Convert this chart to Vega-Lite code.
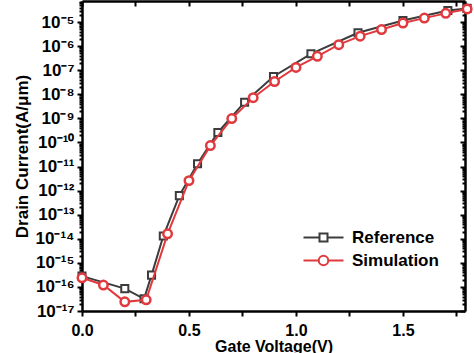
{
  "$schema": "https://vega.github.io/schema/vega-lite/v6.json",
  "autosize": {"type": "none"},
  "width": 383,
  "height": 310,
  "padding": {"left": 82, "top": 1, "right": 9, "bottom": 42},
  "background": "white",
  "config": {
    "view": {"stroke": null},
    "font": "Liberation Sans",
    "axis": {"grid": false, "domainColor": "black", "domainWidth": 2.5, "tickColor": "black", "tickWidth": 2, "labelFont": "Liberation Sans", "labelFontWeight": "bold", "labelFontSize": 16, "labelColor": "black", "titleFont": "Liberation Sans", "titleFontWeight": "bold", "titleColor": "black"}
  },
  "data": {"values": [
    {"series": "Reference", "v": 0.0, "i": 2.8e-16},
    {"series": "Reference", "v": 0.2, "i": 8.5e-17},
    {"series": "Reference", "v": 0.29, "i": 3.2e-17},
    {"series": "Reference", "v": 0.325, "i": 3.1e-16},
    {"series": "Reference", "v": 0.38, "i": 1.3e-14},
    {"series": "Reference", "v": 0.455, "i": 6.2e-13},
    {"series": "Reference", "v": 0.54, "i": 1.3e-11},
    {"series": "Reference", "v": 0.635, "i": 2.6e-10},
    {"series": "Reference", "v": 0.76, "i": 4.7e-9},
    {"series": "Reference", "v": 0.895, "i": 5.5e-8},
    {"series": "Reference", "v": 1.07, "i": 4.8e-7},
    {"series": "Reference", "v": 1.29, "i": 3.6e-6},
    {"series": "Reference", "v": 1.5, "i": 1.17e-5},
    {"series": "Reference", "v": 1.71, "i": 3.0e-5},
    {"series": "Reference", "v": 1.8, "i": 3.7e-5},
    {"series": "Simulation", "v": 0.0, "i": 2.4e-16},
    {"series": "Simulation", "v": 0.1, "i": 1.2e-16},
    {"series": "Simulation", "v": 0.2, "i": 2.4e-17},
    {"series": "Simulation", "v": 0.3, "i": 2.9e-17},
    {"series": "Simulation", "v": 0.4, "i": 1.6e-14},
    {"series": "Simulation", "v": 0.5, "i": 2.6e-12},
    {"series": "Simulation", "v": 0.6, "i": 7.4e-11},
    {"series": "Simulation", "v": 0.7, "i": 9.8e-10},
    {"series": "Simulation", "v": 0.8, "i": 7.2e-9},
    {"series": "Simulation", "v": 0.9, "i": 3.4e-8},
    {"series": "Simulation", "v": 1.0, "i": 1.3e-7},
    {"series": "Simulation", "v": 1.1, "i": 3.8e-7},
    {"series": "Simulation", "v": 1.2, "i": 1.15e-6},
    {"series": "Simulation", "v": 1.3, "i": 2.6e-6},
    {"series": "Simulation", "v": 1.4, "i": 4.9e-6},
    {"series": "Simulation", "v": 1.5, "i": 9.1e-6},
    {"series": "Simulation", "v": 1.6, "i": 1.46e-5},
    {"series": "Simulation", "v": 1.7, "i": 2.3e-5},
    {"series": "Simulation", "v": 1.8, "i": 3.5e-5}
  ]},
  "resolve": {"axis": {"x": "independent", "y": "independent"}},
  "layer": [
    {
      "transform": [{"filter": "datum.series === 'Reference'"}],
      "mark": {"type": "line", "strokeWidth": 2},
      "encoding": {
        "x": {"field": "v", "type": "quantitative", "scale": {"domain": [0, 1.79], "nice": false, "zero": false},
          "axis": {"orient": "bottom", "title": "Gate Voltage(V)", "titleFontSize": 16, "values": [0, 0.25, 0.5, 0.75, 1, 1.25, 1.5, 1.75],
            "labelExpr": "datum.value % 0.5 === 0 ? format(datum.value, '.1f') : ''", "tickSize": 5, "labelPadding": 6,
            "titleX": 191.5, "titleY": 40, "titleBaseline": "alphabetic", "titleAlign": "center", "labelFlush": false, "labelOverlap": false}},
        "y": {"field": "i", "type": "quantitative", "scale": {"type": "log", "domain": [1e-17, 7.5e-5], "nice": false},
          "axis": {"orient": "left", "title": "Drain Current(A/μm)", "titleFontSize": 17, "labelFontSize": 17,
            "values": [1e-17,2e-17,3e-17,4e-17,5e-17,6e-17,7e-17,8e-17,9e-17,1e-16,2e-16,3e-16,4e-16,5e-16,6e-16,7e-16,8e-16,9e-16,1e-15,2e-15,3e-15,4e-15,5e-15,6e-15,7e-15,8e-15,9e-15,1e-14,2e-14,3e-14,4e-14,5e-14,6e-14,7e-14,8e-14,9e-14,1e-13,2e-13,3e-13,4e-13,5e-13,6e-13,7e-13,8e-13,9e-13,1e-12,2e-12,3e-12,4e-12,5e-12,6e-12,7e-12,8e-12,9e-12,1e-11,2e-11,3e-11,4e-11,5e-11,6e-11,7e-11,8e-11,9e-11,1e-10,2e-10,3e-10,4e-10,5e-10,6e-10,7e-10,8e-10,9e-10,1e-9,2e-9,3e-9,4e-9,5e-9,6e-9,7e-9,8e-9,9e-9,1e-8,2e-8,3e-8,4e-8,5e-8,6e-8,7e-8,8e-8,9e-8,1e-7,2e-7,3e-7,4e-7,5e-7,6e-7,7e-7,8e-7,9e-7,1e-6,2e-6,3e-6,4e-6,5e-6,6e-6,7e-6,8e-6,9e-6,1e-5,2e-5,3e-5,4e-5,5e-5,6e-5,7e-5],
            "labelExpr": "abs(log(datum.value)/LN10 - round(log(datum.value)/LN10)) < 0.01 ? ('10⁻' + (-round(log(datum.value)/LN10) >= 10 ? substring('⁰¹²³⁴⁵⁶⁷⁸⁹', floor(-round(log(datum.value)/LN10)/10), floor(-round(log(datum.value)/LN10)/10)+1) : '') + substring('⁰¹²³⁴⁵⁶⁷⁸⁹', (-round(log(datum.value)/LN10)) % 10, (-round(log(datum.value)/LN10)) % 10 + 1)) : ''",
            "tickSize": {"condition": {"test": "abs(log(datum.value)/LN10 - round(log(datum.value)/LN10)) < 0.01", "value": 5}, "value": 3},
            "labelPadding": 3, "labelOverlap": false, "labelFlush": false,
            "titleX": -60, "titleY": 155, "titleAngle": -90, "titleBaseline": "middle", "titleAlign": "center"}},
        "color": {"field": "series", "type": "nominal", "scale": {"domain": ["Reference", "Simulation"], "range": ["#3c3c3c", "#e03a3e"]},
          "legend": {"orient": "none", "legendX": 233, "legendY": 228, "title": null, "padding": 0, "symbolSize": 100, "symbolStrokeWidth": 2,
            "labelFont": "Liberation Sans", "labelFontWeight": "bold", "labelFontSize": 17, "labelColor": "black", "labelOffset": 20, "rowPadding": 5,
            "encode": {"symbols": {"update": {"shape": {"signal": "datum.label === 'Reference' ? 'M-4,0H-0.8M-0.8,-0.8H0.8V0.8H-0.8ZM0.8,0H4' : 'M-4,0H-0.95M0.95,0H4M-0.95,0A0.95,0.95 0 1,0 0.95,0A0.95,0.95 0 1,0 -0.95,0Z'"}, "fill": {"value": "white"}, "strokeWidth": {"value": 2}}}}}}
      }
    },
    {
      "transform": [{"filter": "datum.series === 'Reference'"}],
      "mark": {"type": "point", "shape": "square", "filled": false, "fill": "white", "fillOpacity": 1, "size": 50, "strokeWidth": 2, "opacity": 1},
      "encoding": {
        "x": {"field": "v", "type": "quantitative",
          "axis": {"orient": "top", "title": null, "labels": false, "values": [0, 0.25, 0.5, 0.75, 1, 1.25, 1.5, 1.75], "tickSize": -5}},
        "y": {"field": "i", "type": "quantitative",
          "axis": {"orient": "right", "title": null, "labels": false,
            "values": [1e-17,2e-17,3e-17,4e-17,5e-17,6e-17,7e-17,8e-17,9e-17,1e-16,2e-16,3e-16,4e-16,5e-16,6e-16,7e-16,8e-16,9e-16,1e-15,2e-15,3e-15,4e-15,5e-15,6e-15,7e-15,8e-15,9e-15,1e-14,2e-14,3e-14,4e-14,5e-14,6e-14,7e-14,8e-14,9e-14,1e-13,2e-13,3e-13,4e-13,5e-13,6e-13,7e-13,8e-13,9e-13,1e-12,2e-12,3e-12,4e-12,5e-12,6e-12,7e-12,8e-12,9e-12,1e-11,2e-11,3e-11,4e-11,5e-11,6e-11,7e-11,8e-11,9e-11,1e-10,2e-10,3e-10,4e-10,5e-10,6e-10,7e-10,8e-10,9e-10,1e-9,2e-9,3e-9,4e-9,5e-9,6e-9,7e-9,8e-9,9e-9,1e-8,2e-8,3e-8,4e-8,5e-8,6e-8,7e-8,8e-8,9e-8,1e-7,2e-7,3e-7,4e-7,5e-7,6e-7,7e-7,8e-7,9e-7,1e-6,2e-6,3e-6,4e-6,5e-6,6e-6,7e-6,8e-6,9e-6,1e-5,2e-5,3e-5,4e-5,5e-5,6e-5,7e-5],
            "tickSize": {"condition": {"test": "abs(log(datum.value)/LN10 - round(log(datum.value)/LN10)) < 0.01", "value": -5}, "value": -3}}},
        "color": {"field": "series", "type": "nominal", "legend": null}
      }
    },
    {
      "transform": [{"filter": "datum.series === 'Simulation'"}],
      "mark": {"type": "line", "strokeWidth": 2},
      "encoding": {
        "x": {"field": "v", "type": "quantitative", "axis": null},
        "y": {"field": "i", "type": "quantitative", "axis": null},
        "color": {"field": "series", "type": "nominal", "legend": null}
      }
    },
    {
      "transform": [{"filter": "datum.series === 'Simulation'"}],
      "mark": {"type": "point", "shape": "circle", "filled": false, "fill": "white", "fillOpacity": 1, "size": 72, "strokeWidth": 2.5, "opacity": 1},
      "encoding": {
        "x": {"field": "v", "type": "quantitative", "axis": null},
        "y": {"field": "i", "type": "quantitative", "axis": null},
        "color": {"field": "series", "type": "nominal", "legend": null}
      }
    }
  ]
}
